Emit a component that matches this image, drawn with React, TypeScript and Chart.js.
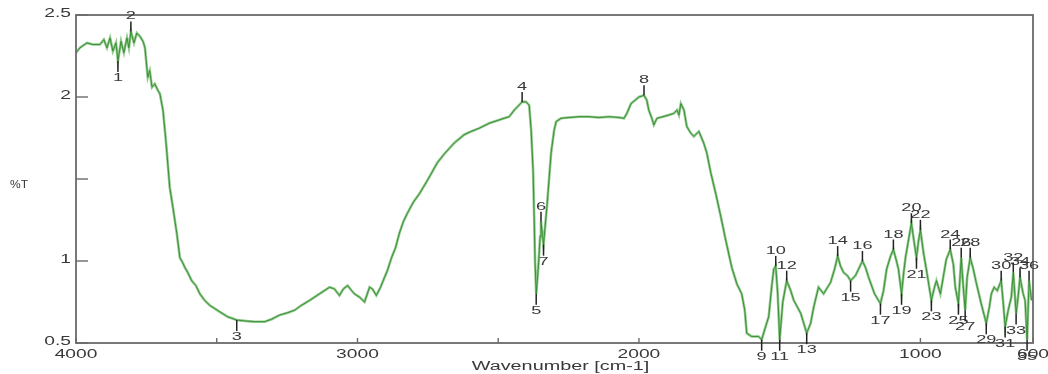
import React, { useEffect, useRef } from "react";
import { Chart, registerables } from "chart.js";

Chart.register(...registerables);

// Spectrum trace (wavenumber in cm-1, %T)
const wavenumbers = [
  4000, 3986, 3961, 3940, 3915, 3901, 3890, 3879, 3869, 3858, 3851, 3840, 3830, 3819, 3812, 3805,
  3794, 3784, 3773, 3762, 3755, 3745, 3738, 3730, 3720, 3709, 3702, 3691, 3681, 3667, 3656, 3642,
  3631, 3621, 3613, 3603, 3589, 3574, 3560, 3543, 3525, 3507, 3489, 3461, 3429, 3401, 3365, 3330,
  3305, 3277, 3248, 3223, 3199, 3170, 3135, 3099, 3082, 3064, 3050, 3035, 3021, 3011, 2993, 2975,
  2957, 2947, 2933, 2918, 2904, 2894, 2879, 2865, 2851, 2837, 2823, 2801, 2780, 2752, 2716, 2688,
  2656, 2621, 2596, 2567, 2532, 2497, 2479, 2461, 2443, 2426, 2415, 2401, 2390, 2383, 2376, 2372,
  2369, 2365, 2358, 2351, 2348, 2343, 2339, 2326, 2312, 2301, 2294, 2277, 2248, 2213, 2177, 2142,
  2106, 2071, 2053, 2043, 2028, 2014, 2000, 1982, 1972, 1965, 1954, 1947, 1936, 1915, 1894, 1876,
  1865, 1858, 1851, 1840, 1830, 1816, 1805, 1787, 1770, 1759, 1745, 1727, 1709, 1692, 1670, 1652,
  1635, 1624, 1617, 1600, 1575, 1564, 1550, 1539, 1528, 1521, 1514, 1507, 1500, 1489, 1475, 1461,
  1450, 1425, 1404, 1390, 1379, 1362, 1344, 1319, 1305, 1294, 1284, 1273, 1259, 1248, 1231, 1220,
  1206, 1195, 1184, 1163, 1142, 1131, 1120, 1106, 1096, 1085, 1078, 1067, 1060, 1053, 1043, 1032,
  1021, 1014, 1007, 1000, 989, 979, 961, 950, 943, 929, 919, 908, 894, 883, 876, 865,
  855, 848, 841, 834, 823, 812, 802, 784, 766, 755, 748, 738, 727, 713, 706, 699,
  688, 677, 670, 660, 653, 646, 635, 628, 621, 614, 605,
];
const transmittance = [
  2.27, 2.30, 2.33, 2.32, 2.32, 2.35, 2.30, 2.36, 2.28, 2.33, 2.22, 2.34, 2.27, 2.36, 2.30, 2.40,
  2.33, 2.39, 2.37, 2.34, 2.30, 2.12, 2.16, 2.06, 2.08, 2.04, 2.02, 1.92, 1.74, 1.45, 1.33, 1.17,
  1.02, 0.99, 0.96, 0.93, 0.88, 0.85, 0.80, 0.76, 0.73, 0.71, 0.69, 0.66, 0.64, 0.635, 0.63, 0.63,
  0.645, 0.67, 0.685, 0.70, 0.73, 0.76, 0.80, 0.84, 0.83, 0.79, 0.83, 0.85, 0.82, 0.80, 0.78, 0.75,
  0.84, 0.83, 0.79, 0.84, 0.90, 0.94, 1.02, 1.08, 1.17, 1.24, 1.29, 1.36, 1.41, 1.49, 1.60, 1.66,
  1.72, 1.77, 1.79, 1.81, 1.84, 1.86, 1.87, 1.88, 1.92, 1.95, 1.97, 1.97, 1.95, 1.80, 1.55, 1.25,
  0.99, 0.80, 0.95, 1.15, 1.24, 1.16, 1.10, 1.35, 1.66, 1.80, 1.85, 1.87, 1.875, 1.88, 1.88, 1.875,
  1.88, 1.875, 1.87, 1.90, 1.96, 1.98, 2.00, 2.01, 1.98, 1.92, 1.87, 1.83, 1.87, 1.88, 1.89, 1.90,
  1.92, 1.89, 1.96, 1.92, 1.82, 1.78, 1.76, 1.79, 1.72, 1.66, 1.54, 1.41, 1.27, 1.13, 0.96, 0.86,
  0.80, 0.70, 0.56, 0.54, 0.54, 0.52, 0.60, 0.66, 0.85, 0.95, 0.97, 0.80, 0.52, 0.75, 0.88, 0.82,
  0.76, 0.68, 0.56, 0.62, 0.72, 0.84, 0.80, 0.87, 0.95, 1.03, 0.97, 0.93, 0.91, 0.88, 0.91, 0.95,
  1.00, 0.96, 0.90, 0.80, 0.74, 0.82, 0.95, 1.03, 1.07, 1.00, 0.95, 0.80, 0.92, 1.02, 1.12, 1.23,
  1.10, 1.02, 1.12, 1.19, 1.05, 0.95, 0.76, 0.84, 0.88, 0.80, 0.90, 1.01, 1.07, 0.98, 0.84, 0.74,
  1.02, 0.85, 0.70, 0.90, 1.02, 0.95, 0.87, 0.74, 0.62, 0.72, 0.80, 0.84, 0.82, 0.88, 0.75, 0.60,
  0.70, 0.78, 0.93, 0.68, 0.78, 0.90, 0.80, 0.76, 0.52, 0.88, 0.76,
];

// Numbered peak picks (number = index + 1); "u" = maximum, "d" = minimum
const peakWavenumbers = [
  3851, 3805, 3429, 2415, 2365, 2348, 2339, 1982, 1564, 1514, 1500, 1475, 1404, 1294, 1248, 1206,
  1142, 1096, 1067, 1032, 1014, 1000, 961, 894, 865, 855, 841, 823, 766, 713, 699, 670,
  660, 646, 621, 614,
];
const peakValues = [
  2.22, 2.40, 0.64, 1.97, 0.80, 1.24, 1.10, 2.01, 0.52, 0.97, 0.52, 0.88, 0.56, 1.03, 0.88, 1.00,
  0.74, 1.07, 0.80, 1.23, 1.02, 1.19, 0.76, 1.07, 0.74, 1.02, 0.70, 1.02, 0.62, 0.88, 0.60, 0.93,
  0.68, 0.90, 0.52, 0.88,
];
const peakDirections = [
  "d", "u", "d", "u", "d", "u", "d", "u", "d", "u", "d", "u", "d", "u", "d", "u",
  "d", "u", "d", "u", "d", "u", "d", "u", "d", "u", "d", "u", "d", "u", "d", "u",
  "d", "u", "d", "u",
];

// Axis ticks
const xTickValues = [4000, 3500, 3000, 2500, 2000, 1500, 1000, 600];
const xTickLabels = ["4000", "", "3000", "", "2000", "", "1000", "600"];
const yTickValues = [0.5, 1, 1.5, 2, 2.5];
const yTickLabels = ["0.5", "1", "", "2", "2.5"];

const FONT = "'Liberation Sans', Arial, sans-serif";
const TEXT = "#383838";

function stretchedText(ctx: CanvasRenderingContext2D, text: string, x: number, y: number, align: CanvasTextAlign, sx: number) {
  ctx.save();
  ctx.translate(x, y);
  ctx.scale(sx, 1);
  ctx.textAlign = align;
  ctx.textBaseline = "middle";
  ctx.fillText(text, 0, 0);
  ctx.restore();
}

const decorPlugin = {
  id: "decor",
  afterDatasetsDraw(chart: any) {
    const { ctx, chartArea: a, scales } = chart;
    const xs = scales.x;
    const ys = scales.y;
    ctx.save();
    // frame
    ctx.strokeStyle = "#6a6a6a";
    ctx.lineWidth = 1.8;
    ctx.strokeRect(a.left, a.top, a.right - a.left, a.bottom - a.top);
    // inward ticks
    ctx.lineWidth = 1.4;
    yTickValues.forEach((v) => {
      const py = ys.getPixelForValue(v);
      ctx.beginPath();
      ctx.moveTo(a.left, py);
      ctx.lineTo(a.left + 12, py);
      ctx.stroke();
    });
    xTickValues.forEach((v) => {
      const px = xs.getPixelForValue(v);
      ctx.beginPath();
      ctx.moveTo(px, a.bottom);
      ctx.lineTo(px, a.bottom - 5);
      ctx.stroke();
    });
    // tick labels
    ctx.fillStyle = TEXT;
    ctx.font = `12px ${FONT}`;
    yTickValues.forEach((v, i) => {
      if (!yTickLabels[i]) return;
      stretchedText(ctx, yTickLabels[i], a.left - 5, ys.getPixelForValue(v) - 1, "right", 1.6);
    });
    xTickValues.forEach((v, i) => {
      if (!xTickLabels[i]) return;
      stretchedText(ctx, xTickLabels[i], xs.getPixelForValue(v), a.bottom + 12, "center", 1.6);
    });
    stretchedText(ctx, "Wavenumber [cm-1]", (a.left + a.right) / 2 + 6, a.bottom + 24, "center", 1.65);
    ctx.font = `10px ${FONT}`;
    stretchedText(ctx, "%T", 10, 185, "left", 1.2);
    // peak markers
    ctx.strokeStyle = "#222";
    ctx.lineWidth = 1.5;
    ctx.font = `11px ${FONT}`;
    peakWavenumbers.forEach((w, i) => {
      const px = xs.getPixelForValue(w);
      const py = ys.getPixelForValue(peakValues[i]);
      const up = peakDirections[i] === "u";
      ctx.beginPath();
      ctx.moveTo(px, py);
      ctx.lineTo(px, up ? py - 10 : py + 11);
      ctx.stroke();
      stretchedText(ctx, String(i + 1), px, up ? py - 15 : py + 17, "center", 1.65);
    });
    ctx.restore();
  },
};

export default function App() {
  const canvasRef = useRef<HTMLCanvasElement | null>(null);

  useEffect(() => {
    if (!canvasRef.current) return;
    const points = wavenumbers.map((x, i) => ({ x, y: transmittance[i] }));
    const chart = new Chart(canvasRef.current, {
      type: "line",
      data: {
        datasets: [
          {
            data: points,
            borderColor: "rgba(30,125,30,0.75)",
            borderWidth: 1,
            pointRadius: 0,
            tension: 0,
            order: 0,
          },
          {
            data: points,
            borderColor: "#92c98c",
            borderWidth: 2.6,
            pointRadius: 0,
            tension: 0,
            order: 1,
          },
        ],
      },
      options: {
        animation: false,
        responsive: false,
        parsing: false as any,
        layout: { padding: { top: 15, right: 15, left: 0, bottom: 0 } },
        plugins: { legend: { display: false }, tooltip: { enabled: false } },
        scales: {
          x: {
            type: "linear",
            reverse: true,
            min: 600,
            max: 4000,
            grid: { display: false, drawTicks: false },
            border: { display: false },
            ticks: { display: false },
            afterFit: (scale: any) => {
              scale.height = 31;
            },
          },
          y: {
            type: "linear",
            min: 0.5,
            max: 2.5,
            grid: { display: false, drawTicks: false },
            border: { display: false },
            ticks: { display: false },
            afterFit: (scale: any) => {
              scale.width = 76;
            },
          },
        },
      },
      plugins: [decorPlugin],
    });
    return () => chart.destroy();
  }, []);

  return (
    <div style={{ position: "fixed", left: 0, top: 0, width: 1048, height: 374, background: "#fff" }}>
      <canvas ref={canvasRef} width={1048} height={374} />
    </div>
  );
}
